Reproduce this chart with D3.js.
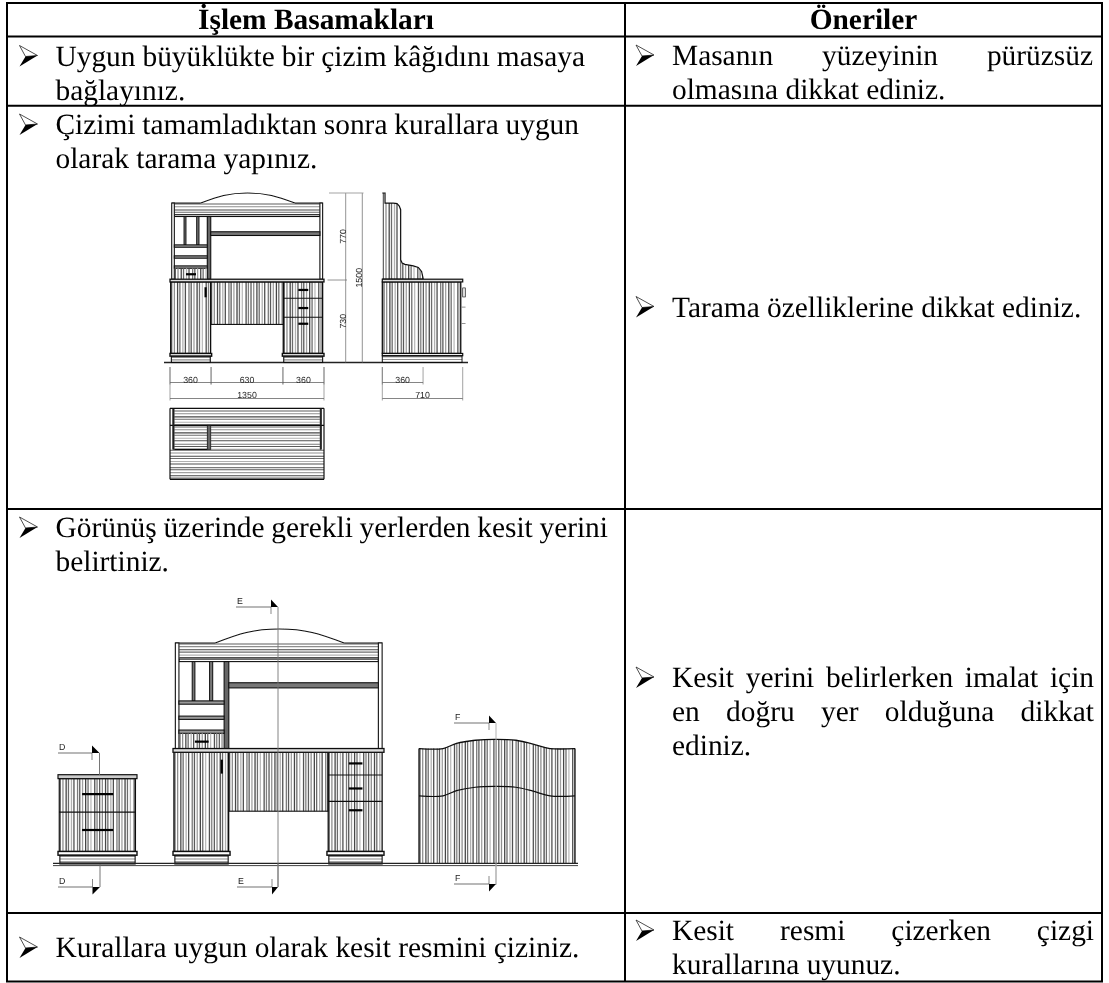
<!DOCTYPE html>
<html>
<head>
<meta charset="utf-8">
<script src="https://cdn.jsdelivr.net/npm/d3@7"></script>
<style>
html, body { margin: 0; padding: 0; background: #fff; }
svg { display: block; }
text { text-rendering: geometricPrecision; }
.cell-text { font-family: "Liberation Serif", serif; font-size: 29.4px; fill: #000; }
.head-text { font-family: "Liberation Serif", serif; font-size: 29.4px; font-weight: bold; fill: #000; text-anchor: middle; }
.dim-text { font-family: "Liberation Sans", sans-serif; font-size: 8.8px; fill: #222; text-anchor: middle; }
.mark-text { font-family: "Liberation Sans", sans-serif; font-size: 8.8px; fill: #222; }
</style>
</head>
<body>
<svg id="chart" width="1109" height="983"></svg>
<script>
WIDTH = 1109
HEIGHT = 983

/* Table content */
var headers = ["İşlem Basamakları", "Öneriler"];
var stepLines = [
    ["Uygun büyüklükte bir çizim kâğıdını masaya", "bağlayınız."],
    ["Çizimi tamamladıktan sonra kurallara uygun", "olarak tarama yapınız."],
    ["Görünüş üzerinde gerekli yerlerden kesit yerini", "belirtiniz."],
    ["Kurallara uygun olarak kesit resmini çiziniz."],
];
var tipLines = [
    ["Masanın yüzeyinin pürüzsüz", "olmasına dikkat ediniz."],
    ["Tarama özelliklerine dikkat ediniz."],
    ["Kesit yerini belirlerken imalat için", "en doğru yer olduğuna dikkat", "ediniz."],
    ["Kesit resmi çizerken çizgi", "kurallarına uyunuz."],
];

/* Desk front view, millimetres (dimensions are printed on the drawing) */
var deskWidths = [360, 630, 360];
var deskTotal = 1350;
var heightParts = [730, 770];
var heightTotal = 1500;
var sideParts = [360, 710];
var archProfile = [[270, 1411], [470, 1478], [680, 1500], [890, 1478], [1095, 1411]];
var sideProfile = [[0, 1500], [24, 1500], [24, 1411], [97, 1411], [130, 1406], [150, 1385], [162, 1352],
    [162, 909], [175, 880], [200, 868], [274, 855], [318, 841], [347, 806], [362, 737], [0, 737]];
var headTop = [[0, 737], [154, 737], [240, 770], [360, 790], [485, 796], [620, 790], [730, 765], [838, 737], [998, 737]];
var headMid = [[0, 435], [154, 435], [240, 468], [360, 490], [485, 495], [620, 490], [730, 465], [838, 435], [998, 435]];
var drawerLines = [568, 400];
var drawerHandles = [642, 482, 343];
var standLines = [331];
var standHandles = [446, 217];

/* Stripe rhythm: gaps in px and grey tones */
var hatchGaps = [2.7, 3.2, 2.3, 3.0, 2.5, 3.6, 2.2, 2.8, 3.1, 2.4, 2.9, 3.8, 2.3, 2.6];
var hatchTones = ["#5e5e5e", "#8e8e8e", "#484848", "#6c6c6c", "#b0b0b0", "#505050", "#7a7a7a", "#5a5a5a", "#a0a0a0", "#444444", "#6e6e6e", "#bcbcbc", "#525252", "#808080"];

var bulletOutline = [[0, 0], [18, 10], [6, 11]];
var bulletSolid = [[18, 10], [0, 21], [6, 11]];

/* Layout */
var tableLeft = 7, tableRight = 1102, tableDivider = 625;
var rowLines = [3, 36.5, 105.7, 509, 913, 981.5];
var stepBaselines = [65.5, 134, 537, 957];
var tipBaselines = [65, 316.5, 687, 940];
var stepRights = [585, 579, 608, 0];
var tipRights = [1093, 0, 1094, 1094];
var lineStep = 34;

var svg = d3.select("#chart");
var clipCount = 0;

var frontAX = d3.scaleLinear().domain([0, deskTotal]).range([170, 324]);
var frontAY = d3.scaleLinear().domain([0, heightTotal]).range([362.5, 193]);
var sideAX = d3.scaleLinear().domain([0, 710]).range([382.3, 462.7]);
var frontBX = d3.scaleLinear().domain([0, deskTotal]).range([173, 384]);
var frontBY = d3.scaleLinear().domain([0, heightTotal]).range([864, 629]);
var standX = d3.scaleLinear().domain([0, 505]).range([58, 137]);
var headX = d3.scaleLinear().domain([0, 998]).range([419, 575]);

var lineGen = d3.line();

function rs_seg(g, x1, y1, x2, y2, width, color) {
    g.append("line")
        .attr("x1", x1).attr("y1", y1)
        .attr("x2", x2).attr("y2", y2)
        .attr("stroke", color || "#111")
        .attr("stroke-width", width || 1);
}

function rs_box(g, x0, y0, x1, y1, width, fill) {
    g.append("rect")
        .attr("x", x0).attr("y", y0)
        .attr("width", x1 - x0).attr("height", y1 - y0)
        .attr("fill", fill || "none")
        .attr("stroke", "#111")
        .attr("stroke-width", width || 1);
}

function rs_stripePositions(start, end) {
    var out = [];
    var pos = start + 1;
    var i = 0;
    while (pos < end) {
        out.push({pos: pos, tone: hatchTones[i % hatchTones.length]});
        pos += hatchGaps[i % hatchGaps.length];
        i += 1;
    }
    return out;
}

function rs_vHatch(g, x0, y0, x1, y1) {
    g.append("g").selectAll("line")
        .data(rs_stripePositions(x0, x1))
        .join("line")
        .attr("x1", function(d) { return d.pos; })
        .attr("x2", function(d) { return d.pos; })
        .attr("y1", y0).attr("y2", y1)
        .attr("stroke", function(d) { return d.tone; })
        .attr("stroke-width", 1.3);
}

function rs_hHatch(g, x0, y0, x1, y1) {
    g.append("g").selectAll("line")
        .data(rs_stripePositions(y0, y1))
        .join("line")
        .attr("y1", function(d) { return d.pos; })
        .attr("y2", function(d) { return d.pos; })
        .attr("x1", x0).attr("x2", x1)
        .attr("stroke", function(d) { return d.tone; })
        .attr("stroke-width", 1.05);
}

function rs_clip(points) {
    clipCount += 1;
    var id = "clip" + clipCount;
    svg.append("clipPath").attr("id", id).append("path").attr("d", lineGen(points) + "Z");
    return "url(#" + id + ")";
}

function rs_scaled(points, xs, ys) {
    return points.map(function(p) { return [xs(p[0]), ys(p[1])]; });
}

function rs_plinth(g, xs, ys, left, right) {
    rs_box(g, xs(left), ys(80), xs(right), ys(56), 1.4, "#fff");
    rs_hHatch(g, xs(left + 12), ys(56), xs(right - 12), ys(0));
    rs_box(g, xs(left + 12), ys(56), xs(right - 12), ys(0), 1.1);
}

function rs_handle(g, xs, ys, x0, x1, h) {
    rs_seg(g, xs(x0), ys(h), xs(x1), ys(h), 2.2, "#000");
}

function rs_drawDeskFront(g, xs, ys) {
    // upper unit
    var arch = rs_scaled(archProfile, xs, ys);
    g.append("path")
        .attr("d", d3.line().curve(d3.curveNatural)(arch))
        .attr("fill", "none").attr("stroke", "#111").attr("stroke-width", 1.1);
    rs_hHatch(g, xs(40), ys(1411), xs(1314), ys(1308));
    rs_seg(g, xs(15), ys(1411), xs(270), ys(1411), 1.1);
    rs_seg(g, xs(1095), ys(1411), xs(1338), ys(1411), 1.1);
    rs_box(g, xs(38), ys(1308), xs(1314), ys(1292), 1.1, "#fff");
    rs_box(g, xs(15), ys(1411), xs(38), ys(737), 1.1, "#fff");
    rs_box(g, xs(1314), ys(1411), xs(1338), ys(737), 1.1, "#fff");

    // shelf and left cabinet
    rs_box(g, xs(327), ys(1292), xs(357), ys(737), 1.1, "#666");
    rs_box(g, xs(357), ys(1157), xs(1314), ys(1124), 1.1, "#777");
    rs_box(g, xs(123), ys(1292), xs(140), ys(1041), 1, "#777");
    rs_box(g, xs(234), ys(1292), xs(254), ys(1041), 1, "#777");
    [[1041, 1020], [944, 923], [855, 834]].forEach(function(b) {
        rs_box(g, xs(38), ys(b[0]), xs(327), ys(b[1]), 1.1, "#999");
    });
    rs_vHatch(g, xs(38), ys(834), xs(327), ys(737));
    rs_handle(g, xs, ys, 140, 228, 781);

    // desktop, pedestals, modesty panel
    rs_vHatch(g, xs(6), ys(713), xs(356), ys(80));
    rs_vHatch(g, xs(356), ys(713), xs(993), ys(337));
    rs_vHatch(g, xs(993), ys(713), xs(1338), ys(80));
    rs_box(g, xs(6), ys(713), xs(356), ys(80), 1.3);
    rs_box(g, xs(356), ys(713), xs(993), ys(337), 1.1);
    rs_box(g, xs(993), ys(713), xs(1338), ys(80), 1.3);
    rs_box(g, xs(0), ys(737), xs(1350), ys(713), 1.3, "#ddd");
    rs_seg(g, xs(312), ys(666), xs(312), ys(577), 2.2, "#000");
    drawerLines.forEach(function(h) {
        rs_seg(g, xs(993), ys(h), xs(1338), ys(h), 1.1);
    });
    drawerHandles.forEach(function(h) {
        rs_handle(g, xs, ys, 1125, 1212, h);
    });
    rs_plinth(g, xs, ys, 0, 365);
    rs_plinth(g, xs, ys, 985, 1350);
}

function rs_drawSideView(g, xs, ys) {
    var profile = rs_scaled(sideProfile, xs, ys);
    var clipped = g.append("g").attr("clip-path", rs_clip(profile));
    rs_vHatch(clipped, xs(0), ys(1500), xs(362), ys(737));
    g.append("path").attr("d", lineGen(profile)).attr("fill", "none").attr("stroke", "#111").attr("stroke-width", 1.2);
    rs_vHatch(g, xs(6), ys(713), xs(693), ys(80));
    rs_box(g, xs(0), ys(713), xs(693), ys(80), 1.3);
    rs_box(g, xs(0), ys(737), xs(710), ys(713), 1.2, "#ddd");
    rs_box(g, xs(0), ys(80), xs(710), ys(60), 1.2, "#fff");
    rs_hHatch(g, xs(0), ys(60), xs(704), ys(0));
    rs_box(g, xs(0), ys(60), xs(704), ys(0), 1);
    rs_box(g, xs(710), ys(660), xs(735), ys(580), 0.6, "#ddd");
    rs_seg(g, xs(700), ys(490), xs(735), ys(490), 0.8, "#777");
    rs_seg(g, xs(700), ys(345), xs(735), ys(345), 0.8, "#777");
}

function rs_hDim(g, xs, x0, x1, lineY, topY, label, labelY) {
    rs_seg(g, xs(x0), lineY, xs(x1), lineY, 0.6, "#333");
    rs_seg(g, xs(x0), topY, xs(x0), lineY + 2, 0.6, "#666");
    rs_seg(g, xs(x1), topY, xs(x1), lineY + 2, 0.6, "#666");
    g.append("text").attr("class", "dim-text")
        .attr("x", xs((x0 + x1) / 2)).attr("y", labelY).text(label);
}

function rs_vDimText(g, x, y, label) {
    g.append("text").attr("class", "dim-text")
        .attr("transform", "translate(" + x + "," + y + ") rotate(-90)")
        .text(label);
}

function rs_drawDimensions(g) {
    var x = 0;
    deskWidths.forEach(function(w) {
        rs_hDim(g, frontAX, x, x + w, 382.5, 367, w, 382.5);
        x += w;
    });
    rs_hDim(g, frontAX, 0, deskTotal, 398.5, 367, deskTotal, 398);
    rs_hDim(g, sideAX, 0, sideParts[0], 382.5, 367, sideParts[0], 382.5);
    rs_hDim(g, sideAX, 0, sideParts[1], 398.5, 367, sideParts[1], 398);

    var y = frontAY;
    rs_seg(g, 345.7, y(0), 345.7, y(heightTotal), 0.8, "#777");
    rs_seg(g, 362.3, y(0), 362.3, y(heightTotal), 0.8, "#777");
    rs_seg(g, 329, y(heightTotal), 363.5, y(heightTotal), 0.9, "#999");
    rs_seg(g, 327.5, y(heightParts[0]), 347, y(heightParts[0]), 0.8, "#777");
    rs_vDimText(g, 345.5, y(heightParts[0] + heightParts[1] / 2), heightParts[1]);
    rs_vDimText(g, 345.5, y(heightParts[0] / 2), heightParts[0]);
    rs_vDimText(g, 361.5, y(heightTotal / 2), heightTotal);
}

function rs_drawPlan(g) {
    var y = d3.scaleLinear().domain([0, 215]).range([408.3, 480]);
    var xs = frontAX;
    rs_hHatch(g, xs(38), y(5), xs(1314), y(50));
    rs_hHatch(g, xs(357), y(53), xs(1314), y(123));
    rs_hHatch(g, xs(38), y(53), xs(327), y(123));
    rs_hHatch(g, xs(0), y(123), xs(1350), y(213));
    rs_seg(g, xs(0), y(0), xs(1350), y(0), 1.3);
    rs_seg(g, xs(0), y(0), xs(0), y(213), 1.2);
    rs_seg(g, xs(1350), y(0), xs(1350), y(213), 1.2);
    rs_seg(g, xs(0), y(51), xs(1350), y(51), 1.3);
    rs_seg(g, xs(38), y(123), xs(327), y(123), 1.2);
    rs_seg(g, xs(0), y(213), xs(1350), y(213), 1.2);
    rs_box(g, xs(327), y(51), xs(357), y(123), 0.8, "#666");
    rs_box(g, xs(24), y(0), xs(36), y(123), 0.6, "#222");
    rs_box(g, xs(1316), y(0), xs(1328), y(123), 0.6, "#222");
}

function rs_drawStand(g, y) {
    var xs = standX;
    rs_vHatch(g, xs(8), y(545), xs(495), y(80));
    rs_box(g, xs(8), y(545), xs(495), y(80), 1.2);
    rs_box(g, xs(0), y(570), xs(505), y(545), 1.2, "#ccc");
    standLines.forEach(function(h) { rs_seg(g, xs(8), y(h), xs(495), y(h), 1.1); });
    standHandles.forEach(function(h) { rs_handle(g, xs, y, 154, 353, h); });
    rs_plinth(g, xs, y, 0, 505);
}

function rs_drawHead(g, y) {
    var curve = d3.line().curve(d3.curveCatmullRom.alpha(0.5));
    var top = rs_scaled(headTop, headX, y);
    var base = [[headX(998), y(0)], [headX(0), y(0)]];
    var clipped = g.append("g").attr("clip-path", rs_clip(top.concat(base)));
    rs_vHatch(clipped, headX(0), y(800), headX(998), y(0));
    g.append("path").attr("d", curve(top)).attr("fill", "none").attr("stroke", "#111").attr("stroke-width", 1.3);
    g.append("path").attr("d", curve(rs_scaled(headMid, headX, y))).attr("fill", "none").attr("stroke", "#111").attr("stroke-width", 1.2);
    rs_seg(g, headX(0), y(737), headX(0), y(0), 1.3);
    rs_seg(g, headX(998), y(737), headX(998), y(0), 1.3);
}

function rs_sectionMark(g, name, lineLeft, lineY, tickX, lineEndX, up, stemEndY, stemColor) {
    rs_seg(g, lineLeft, lineY, tickX, lineY, 0.7, "#333");
    rs_seg(g, tickX, lineY, tickX, lineY + (up ? 7 : -8), 0.7, "#555");
    g.append("path")
        .attr("d", lineGen([[tickX, lineY], [lineEndX, lineY], [tickX, lineY + (up ? -7.5 : 7.5)]]) + "Z")
        .attr("fill", "#000");
    rs_seg(g, lineEndX, lineY, lineEndX, stemEndY, 0.9, stemColor || "#666");
    g.append("text").attr("class", "mark-text")
        .attr("x", lineLeft + 1).attr("y", lineY - 3).text(name);
}

function rs_drawTable() {
    var grid = svg.append("g");
    rowLines.forEach(function(r) {
        rs_seg(grid, tableLeft - 1, r, tableRight + 1, r, 2, "#000");
    });
    [tableLeft, tableDivider, tableRight].forEach(function(x) {
        rs_seg(grid, x, rowLines[0], x, rowLines[rowLines.length - 1], 2, "#000");
    });

    var hx = d3.scalePoint().domain(headers).range([(tableLeft + tableDivider) / 2, (tableDivider + tableRight) / 2]);
    svg.append("g").selectAll("text")
        .data(headers)
        .join("text")
        .attr("class", "head-text")
        .attr("x", function(d) { return hx(d); })
        .attr("y", 29)
        .text(function(d) { return d; });

    rs_drawColumn(stepLines, stepBaselines, stepRights, 55.5, 19.5);
    rs_drawColumn(tipLines, tipBaselines, tipRights, 672, 636);
}

function rs_drawBullet(x, baseline) {
    var y0 = baseline - 20;
    var g = svg.append("g").attr("transform", "translate(" + x + "," + y0 + ")");
    g.append("path").attr("d", lineGen(bulletOutline) + "Z").attr("fill", "#fff").attr("stroke", "#222").attr("stroke-width", 0.8);
    g.append("path").attr("d", lineGen(bulletSolid) + "Z").attr("fill", "#000");
}

function rs_drawColumn(cells, baselines, rights, textX, bulletX) {
    cells.forEach(function(lines, i) {
        rs_drawBullet(bulletX, baselines[i]);
        lines.forEach(function(line, j) {
            var t = svg.append("text")
                .attr("class", "cell-text")
                .attr("x", textX)
                .attr("y", baselines[i] + j * lineStep)
                .text(line);
            // justified like the source document: every line but the last of a cell
            if (j < lines.length - 1 && rights[i] > 0) {
                var gaps = line.split(" ").length - 1;
                var extra = (rights[i] - textX - t.node().getComputedTextLength()) / gaps;
                t.style("word-spacing", extra + "px");
            }
        });
    });
}

function rs_draw() {
    svg.append("rect").attr("width", WIDTH).attr("height", HEIGHT).attr("fill", "#fff");
    var soft = svg.append("filter").attr("id", "soft");
    soft.append("feGaussianBlur").attr("stdDeviation", 0.3);

    var drawA = svg.append("g").attr("filter", "url(#soft)");
    rs_seg(drawA, 164, frontAY(0), 468, frontAY(0), 1.6, "#222");
    rs_drawDeskFront(drawA, frontAX, frontAY);
    rs_drawSideView(drawA, sideAX, frontAY);
    rs_drawDimensions(drawA);
    rs_drawPlan(drawA);

    var drawB = svg.append("g").attr("filter", "url(#soft)");
    rs_drawStand(drawB, frontBY);
    rs_drawDeskFront(drawB, frontBX, frontBY);
    rs_drawHead(drawB, frontBY);
    rs_seg(drawB, 53, 863.4, 578, 863.4, 1.2, "#222");
    rs_seg(drawB, 53, 865.6, 578, 865.6, 1, "#444");
    rs_sectionMark(drawB, "D", 58, 753, 92, 99.5, true, 775);
    rs_sectionMark(drawB, "D", 58, 887, 92.5, 100, false, 864);
    rs_sectionMark(drawB, "E", 236, 607, 271, 278, true, 887, "#777");
    rs_sectionMark(drawB, "E", 237, 887, 272, 278, false, 864, "#777");
    rs_sectionMark(drawB, "F", 454, 723, 489, 496, true, 885, "#aaa");
    rs_sectionMark(drawB, "F", 454, 884, 489, 496, false, 864, "#aaa");

    rs_drawTable();
}

rs_draw();
</script>
</body>
</html>
